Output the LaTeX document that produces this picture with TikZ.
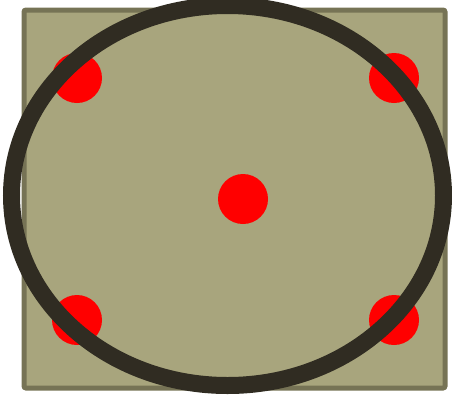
\documentclass[tikz,border=0pt]{standalone}
\usepackage{tikz}
\definecolor{plate}{HTML}{A8A57D}
\definecolor{plateedge}{HTML}{767355}
\definecolor{ringink}{HTML}{302C22}
\begin{document}
\begin{tikzpicture}[
  x=1pt,y=-1pt,
  plate/.style={draw=plateedge,fill=plate,line width=5pt,rounded corners=2pt},
  dot/.style={circle,fill=red,minimum size=50pt,inner sep=0pt},
  ring/.style={draw=ringink,line width=17pt}
]
\useasboundingbox (0,0) rectangle (452,397);
\draw[plate] (24,10) rectangle (445,388);
\node[dot] (tl) at (77,78) {};
\node[dot] (tr) at (394,78) {};
\node[dot] (mid) at (243,199) {};
\node[dot] (bl) at (77,320) {};
\node[dot] (br) at (394,320) {};
\draw[ring] (227.5,195.5) ellipse [x radius=216,y radius=190];
\end{tikzpicture}
\end{document}
